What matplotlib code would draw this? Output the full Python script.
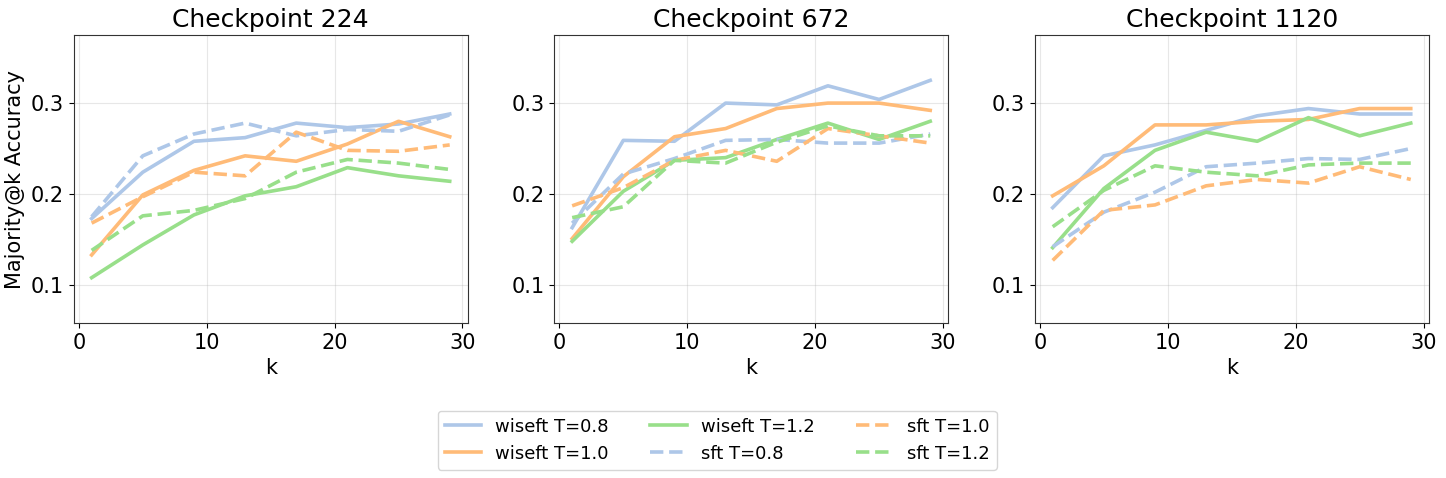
import matplotlib
matplotlib.use("Agg")
import matplotlib.pyplot as plt

k_values = [1, 5, 9, 13, 17, 21, 25, 29]
checkpoints = [224, 672, 1120]

# Majority@k accuracy per checkpoint
wiseft_08 = [
    [0.173, 0.224, 0.258, 0.262, 0.278, 0.273, 0.277, 0.288],
    [0.163, 0.259, 0.258, 0.300, 0.298, 0.319, 0.304, 0.325],
    [0.185, 0.242, 0.254, 0.270, 0.286, 0.294, 0.288, 0.288],
]
wiseft_10 = [
    [0.133, 0.199, 0.226, 0.242, 0.236, 0.255, 0.280, 0.263],
    [0.151, 0.219, 0.263, 0.272, 0.294, 0.300, 0.300, 0.292],
    [0.198, 0.231, 0.276, 0.276, 0.280, 0.282, 0.294, 0.294],
]
wiseft_12 = [
    [0.108, 0.144, 0.177, 0.198, 0.208, 0.229, 0.220, 0.214],
    [0.148, 0.203, 0.237, 0.240, 0.260, 0.278, 0.260, 0.280],
    [0.141, 0.206, 0.248, 0.268, 0.258, 0.284, 0.264, 0.278],
]
sft_08 = [
    [0.175, 0.242, 0.266, 0.278, 0.264, 0.271, 0.269, 0.287],
    [0.168, 0.222, 0.239, 0.259, 0.260, 0.256, 0.256, 0.266],
    [0.142, 0.180, 0.202, 0.230, 0.234, 0.239, 0.238, 0.250],
]
sft_10 = [
    [0.168, 0.197, 0.224, 0.220, 0.268, 0.248, 0.247, 0.254],
    [0.187, 0.207, 0.237, 0.248, 0.236, 0.272, 0.264, 0.256],
    [0.127, 0.182, 0.188, 0.209, 0.216, 0.212, 0.230, 0.216],
]
sft_12 = [
    [0.138, 0.176, 0.182, 0.195, 0.224, 0.238, 0.234, 0.227],
    [0.174, 0.186, 0.237, 0.234, 0.257, 0.275, 0.264, 0.264],
    [0.164, 0.204, 0.231, 0.224, 0.220, 0.232, 0.234, 0.234],
]

BLUE, ORANGE, GREEN = "#aec7e8", "#ffbb78", "#98df8a"
series = [
    ("wiseft T=0.8", wiseft_08, BLUE, "-"),
    ("wiseft T=1.0", wiseft_10, ORANGE, "-"),
    ("wiseft T=1.2", wiseft_12, GREEN, "-"),
    ("sft T=0.8", sft_08, BLUE, "--"),
    ("sft T=1.0", sft_10, ORANGE, "--"),
    ("sft T=1.2", sft_12, GREEN, "--"),
]

fig, axes = plt.subplots(1, 3, figsize=(14.46, 4.78), dpi=100)
fig.subplots_adjust(left=0.051, right=0.988, top=0.927, bottom=0.324, wspace=0.22)

for i, ax in enumerate(axes):
    for label, data, color, ls in series:
        ax.plot(k_values, data[i], linestyle=ls, color=color, linewidth=2.6, label=label)
    ax.set_title(f"Checkpoint {checkpoints[i]}", fontsize=18)
    ax.set_xlabel("k", fontsize=15)
    ax.set_ylim(0.058, 0.375)
    ax.set_yticks([0.1, 0.2, 0.3])
    ax.tick_params(labelsize=15)
    ax.grid(alpha=0.3)
    for sp in ax.spines.values():
        sp.set_color("#333333")

axes[0].set_ylabel("Majority@k Accuracy", fontsize=15)

handles, labels = axes[0].get_legend_handles_labels()
fig.legend(handles, labels, loc="upper center", bbox_to_anchor=(0.496, 0.16),
           ncol=3, fontsize=13, columnspacing=2.3)

fig.savefig("out.png", dpi=100)
